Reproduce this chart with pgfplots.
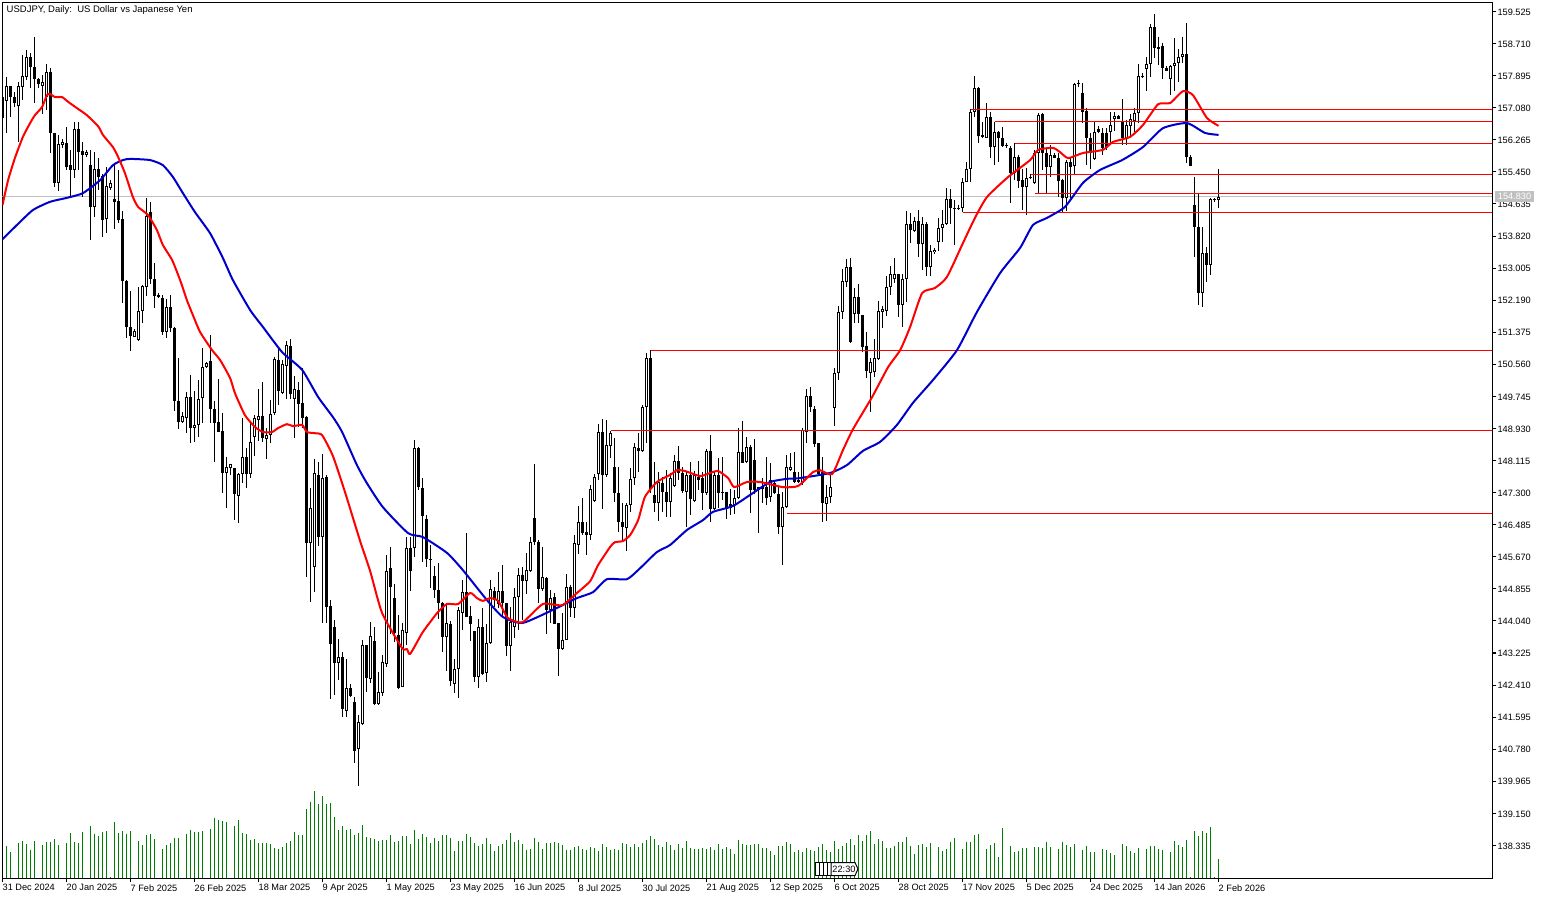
\documentclass[border=0pt]{standalone}
\usepackage{pgfplots}
\usepackage{pgfplotstable}
\usepackage{fontspec}
\setmainfont{Liberation Sans}
\pgfplotsset{compat=1.18}
\definecolor{volgreen}{HTML}{008000}
\definecolor{mablue}{HTML}{0000CD}
\definecolor{silverline}{HTML}{C0C0C0}
\pgfplotstableread{
x o h l c
0 157.35 157.38 156.82 156.82
1 157.25 157.86 156.44 157.63
2 157.63 157.63 156.84 157.35
3 157.35 157.48 157.10 157.20
4 157.12 157.73 156.21 157.63
5 157.61 158.42 157.28 157.89
6 157.86 158.55 157.78 158.37
7 158.37 158.47 157.58 158.11
8 158.11 158.88 157.20 157.81
9 157.81 157.84 157.58 157.68
10 157.63 157.91 156.92 157.73
11 157.35 158.19 157.02 157.99
12 157.99 158.09 155.93 156.44
13 156.44 156.44 155.07 155.17
14 155.17 156.38 154.97 156.16
15 156.13 156.29 156.06 156.21
16 156.18 156.59 155.50 155.57
17 155.62 156.01 154.81 155.50
18 155.50 156.72 155.29 156.54
19 156.54 156.72 155.50 155.96
20 155.98 156.21 154.81 155.88
21 155.88 156.01 155.83 155.96
22 155.62 156.01 153.72 154.56
23 154.56 155.96 154.30 155.52
24 155.52 155.80 154.99 155.32
25 155.34 155.39 153.79 154.23
26 154.25 155.57 153.89 155.09
27 155.04 155.24 154.99 155.17
28 154.76 155.62 153.99 154.69
29 154.71 155.50 154.15 154.23
30 154.25 154.46 152.12 152.68
31 152.68 152.70 151.23 151.51
32 151.51 152.42 150.90 151.28
33 151.25 151.46 151.25 151.41
34 151.18 152.52 151.15 151.92
35 151.92 152.58 151.61 152.55
36 152.52 154.79 152.30 154.33
37 154.43 154.69 152.60 152.73
38 152.73 153.13 151.99 152.30
39 152.32 152.37 152.25 152.27
40 152.25 152.32 151.30 151.38
41 151.38 152.22 151.23 152.02
42 152.02 152.32 151.38 151.48
43 151.48 151.51 149.37 149.63
44 149.63 150.72 148.92 149.09
45 149.09 149.35 149.07 149.25
46 149.20 149.86 148.81 149.73
47 149.73 150.29 148.56 148.94
48 148.94 149.88 148.59 149.02
49 149.02 150.16 148.71 149.68
50 149.70 150.97 149.07 150.49
51 150.49 150.62 150.47 150.59
52 150.64 151.30 149.07 149.42
53 149.42 149.63 148.08 149.07
54 149.09 150.19 148.84 148.84
55 148.86 149.32 147.29 147.80
56 147.80 148.21 146.91 147.95
57 147.93 148.03 147.75 148.03
58 147.93 147.93 146.60 147.26
59 147.21 147.80 146.53 147.77
60 147.77 149.20 147.54 148.20
61 148.20 148.43 147.42 147.77
62 147.77 149.09 147.67 148.58
63 148.71 149.27 148.23 149.20
64 149.14 149.93 148.61 149.25
65 149.25 150.11 148.59 148.69
66 148.66 148.94 148.15 148.76
67 148.76 149.65 148.56 149.29
68 149.32 150.74 149.27 150.69
69 150.67 150.95 149.52 149.88
70 149.83 150.67 149.80 150.57
71 150.52 151.15 149.68 151.05
72 151.03 151.20 149.68 149.80
73 149.68 150.26 148.69 149.93
74 149.91 150.11 148.97 149.55
75 149.58 150.47 148.94 149.20
76 149.22 149.25 145.15 146.02
77 146.02 147.42 144.52 146.91
78 145.41 148.15 144.78 147.80
79 147.75 148.08 145.94 146.17
80 146.17 148.28 143.99 147.67
81 147.70 147.75 143.99 144.39
82 144.42 144.57 142.05 143.45
83 143.88 144.06 142.16 142.97
84 142.97 143.58 142.54 143.12
85 143.12 143.25 141.60 141.80
86 141.75 143.07 141.60 142.33
87 142.33 142.43 142.11 142.13
88 141.98 142.11 140.43 140.73
89 140.78 141.65 139.84 141.47
90 141.42 143.56 141.40 143.43
91 143.43 143.43 142.23 142.59
92 142.56 144.01 142.46 143.66
93 143.53 143.88 141.90 141.93
94 141.93 142.74 141.90 142.23
95 142.21 143.17 142.13 143.00
96 142.94 145.71 142.87 145.31
97 145.38 145.92 143.71 144.90
98 144.62 144.98 143.50 143.73
99 143.68 144.19 142.31 142.33
100 142.36 143.99 142.36 143.81
101 143.73 146.17 143.43 145.89
102 145.89 146.17 144.80 145.31
103 145.89 148.64 145.66 148.43
104 148.43 148.46 147.37 147.44
105 147.42 147.67 145.54 146.71
106 146.63 146.73 145.41 145.61
107 145.61 145.97 144.88 145.59
108 145.18 145.44 144.62 144.83
109 144.83 145.51 144.09 144.49
110 144.49 144.52 143.25 143.63
111 143.63 144.49 142.77 143.99
112 143.96 144.04 142.38 142.51
113 142.43 143.07 142.21 142.82
114 142.82 144.39 142.08 144.32
115 144.24 145.08 143.81 144.77
116 144.77 146.27 144.14 144.14
117 144.17 144.42 143.53 143.96
118 143.78 143.78 142.49 142.61
119 142.61 144.09 142.33 143.88
120 143.88 144.37 142.67 142.69
121 142.71 143.96 142.49 143.48
122 143.48 145.08 143.45 144.85
123 144.80 144.90 144.39 144.57
124 144.47 145.28 144.37 144.80
125 144.80 145.46 144.14 144.49
126 144.49 144.49 143.15 143.40
127 143.40 144.39 142.77 144.01
128 143.88 144.87 143.61 144.65
129 144.65 145.38 143.81 145.21
130 145.21 145.41 144.06 145.05
131 145.05 145.76 144.72 145.33
132 145.31 146.17 145.28 146.04
133 146.65 148.03 145.97 146.04
134 146.04 146.10 144.49 144.85
135 144.85 145.92 144.80 145.15
136 145.13 145.15 143.71 144.32
137 144.32 144.83 143.99 144.62
138 144.65 144.75 143.96 143.96
139 143.99 143.99 142.64 143.33
140 143.33 144.24 143.30 143.56
141 143.56 145.23 143.56 144.90
142 144.90 144.95 144.14 144.37
143 144.37 146.22 144.11 146.02
144 145.97 146.96 145.74 146.55
145 146.55 147.16 146.22 146.27
146 146.30 146.55 145.71 146.22
147 146.22 147.49 146.10 147.39
148 147.09 147.77 147.06 147.70
149 147.77 149.04 147.62 148.84
150 148.84 149.17 146.88 147.75
151 147.75 149.14 147.70 148.51
152 148.48 148.86 148.18 148.81
153 147.95 148.69 147.06 147.29
154 147.29 147.95 146.30 146.55
155 146.55 147.03 146.04 146.42
156 146.40 147.03 145.82 146.98
157 146.98 147.93 146.81 147.65
158 147.67 148.56 147.49 148.46
159 148.43 148.81 147.82 148.36
160 148.36 149.53 148.33 149.48
161 149.48 150.85 148.56 150.72
162 150.72 150.92 147.29 147.39
163 147.24 148.08 146.81 147.04
164 147.04 147.82 146.58 147.57
165 147.54 147.70 146.81 147.32
166 147.32 147.87 146.68 147.06
167 147.06 147.80 146.68 147.67
168 147.47 148.26 147.44 148.10
169 148.10 148.49 147.62 147.80
170 147.80 147.95 147.29 147.34
171 147.32 147.82 146.42 147.75
172 147.75 148.08 146.73 147.14
173 147.09 147.85 147.06 147.75
174 147.70 148.10 147.37 147.62
175 147.67 147.82 146.86 147.29
176 147.29 148.41 147.24 148.36
177 148.36 148.76 146.55 146.88
178 146.88 147.85 146.86 147.75
179 147.75 148.18 146.91 147.29
180 147.32 148.20 147.11 147.29
181 147.32 147.32 146.63 146.91
182 147.01 147.39 146.73 146.91
183 146.98 147.37 146.76 147.16
184 147.16 148.94 147.14 148.33
185 148.33 149.12 148.05 148.05
186 148.08 148.71 148.05 148.46
187 148.46 148.51 146.78 147.37
188 148.13 148.66 147.26 147.37
189 147.44 147.44 146.27 147.37
190 147.39 147.67 147.04 147.44
191 147.44 148.20 146.98 147.16
192 147.19 148.05 147.06 147.62
193 147.54 147.62 147.26 147.29
194 147.26 147.44 146.25 146.42
195 146.42 147.32 145.46 146.93
196 146.93 148.26 146.91 147.95
197 147.87 148.31 147.85 147.95
198 147.82 148.33 147.54 147.57
199 147.62 147.82 147.54 147.57
200 147.54 148.94 147.49 148.89
201 148.84 149.93 148.56 149.75
202 149.75 149.98 149.35 149.48
203 149.42 149.50 148.46 148.53
204 148.56 148.56 147.75 147.77
205 147.82 148.20 146.55 147.04
206 147.01 147.49 146.58 147.19
207 147.19 147.75 147.04 147.44
208 149.45 150.47 148.99 150.34
209 150.34 152.04 150.16 151.89
210 151.89 152.98 151.71 152.68
211 152.65 153.24 152.52 153.03
212 153.03 153.26 151.10 151.13
213 151.84 152.50 151.61 152.27
214 152.27 152.60 151.61 151.84
215 151.81 151.81 150.87 151.00
216 151.03 151.38 150.21 150.39
217 150.34 150.72 149.35 150.62
218 150.36 151.20 150.24 150.72
219 150.69 152.17 150.67 151.92
220 151.89 152.04 151.48 151.97
221 151.92 152.80 151.79 152.52
222 152.52 153.06 152.32 152.85
223 152.73 153.26 152.63 152.85
224 152.85 152.85 151.76 152.07
225 152.07 152.85 151.51 152.73
226 152.73 154.46 152.14 154.13
227 154.13 154.41 153.64 153.97
228 153.95 154.30 153.92 154.20
229 154.20 154.48 153.29 153.62
230 153.62 154.30 152.96 154.13
231 154.13 154.18 152.80 153.03
232 153.03 153.59 152.80 153.44
233 153.41 153.52 153.36 153.47
234 153.67 154.28 153.44 154.02
235 154.02 154.48 153.67 154.13
236 154.13 155.04 154.10 154.76
237 154.76 155.01 154.13 154.53
238 154.53 154.74 153.59 154.51
239 154.51 154.61 154.48 154.53
240 154.53 155.29 154.43 155.19
241 155.19 155.70 155.19 155.52
242 155.52 157.05 155.19 156.97
243 156.97 157.89 156.84 157.58
244 157.58 157.61 156.18 156.36
245 156.38 156.72 156.31 156.33
246 156.31 157.20 156.31 156.84
247 156.84 156.97 155.80 156.08
248 156.08 156.72 155.62 156.46
249 156.46 156.49 155.70 156.31
250 156.31 156.59 156.08 156.11
251 156.13 156.18 156.06 156.11
252 156.06 156.11 154.66 155.42
253 155.42 156.18 155.24 155.83
254 155.83 155.88 155.04 155.22
255 155.24 155.52 154.48 155.07
256 155.07 155.55 154.35 155.29
257 155.29 155.39 155.27 155.32
258 155.17 156.01 155.14 155.93
259 155.93 156.95 154.91 156.89
260 156.92 156.95 155.50 155.93
261 155.93 156.06 154.91 155.57
262 155.57 156.13 155.32 155.88
263 155.88 155.93 155.80 155.80
264 155.80 155.93 154.81 155.22
265 155.24 155.27 154.40 154.79
266 154.79 155.75 154.45 155.70
267 155.70 155.83 154.79 155.57
268 155.60 157.71 155.37 157.68
269 157.68 157.78 157.61 157.71
270 157.45 157.71 156.69 156.97
271 157.00 157.07 155.62 156.31
272 156.31 156.44 155.52 155.93
273 155.78 156.72 155.75 156.46
274 156.54 156.62 156.44 156.46
275 156.44 156.56 155.88 156.06
276 156.44 156.56 156.01 156.08
277 156.46 156.97 156.18 156.64
278 156.79 156.97 156.49 156.87
279 156.87 156.89 156.79 156.79
280 156.72 157.30 156.13 156.31
281 156.31 156.77 156.13 156.64
282 156.62 156.92 156.34 156.79
283 156.74 157.07 156.46 156.95
284 156.95 158.19 156.69 157.89
285 157.89 157.96 157.84 157.86
286 158.06 158.37 157.50 158.19
287 158.19 159.21 157.86 159.13
288 159.13 159.46 158.34 158.60
289 158.57 158.88 158.17 158.62
290 158.65 158.72 157.81 158.09
291 158.09 158.14 158.01 158.01
292 157.81 158.17 157.40 158.14
293 158.14 158.85 157.50 158.22
294 158.22 158.57 157.73 158.37
295 158.37 158.88 158.22 158.44
296 158.44 159.23 155.67 155.83
297 155.83 155.88 155.60 155.60
298 154.61 155.32 153.29 154.05
299 154.05 154.91 152.07 152.37
300 152.37 154.05 152.02 153.39
301 153.39 153.54 152.65 153.08
302 153.08 154.79 152.83 154.76
303 154.76 154.79 154.69 154.74
304 154.74 155.52 154.53 154.81
}\candles
\begin{document}
\begin{tikzpicture}[x=1pt,y=1pt]
\path[use as bounding box] (0,0) rectangle (1545,-899);
\begin{axis}[
  name=main,
  at={(2.3pt,-878.3pt)}, anchor=south west,
  scale only axis, width=1490pt, height=876pt,
  xmin=-0.05, xmax=372.45, ymin=137.5, ymax=159.759,
  axis line style={black,line width=1pt},
  tick style={black,line width=1pt},
  major tick length=4pt,
  tick align=outside,
  xtick pos=bottom, ytick pos=right,
  yticklabel pos=right,
  ytick={138.335,139.15,139.965,140.78,141.595,142.41,143.225,144.04,144.855,145.67,146.485,147.3,148.115,148.93,149.745,150.56,151.375,152.19,153.005,153.82,154.635,155.45,156.265,157.08,157.895,158.71,159.525},
  xtick={0,16,32,48,64,80,96,112,128,144,160,176,192,208,224,240,256,272,288,304},
  xticklabels={31 Dec 2024,20 Jan 2025,7 Feb 2025,26 Feb 2025,18 Mar 2025,9 Apr 2025,1 May 2025,23 May 2025,16 Jun 2025,8 Jul 2025,30 Jul 2025,21 Aug 2025,12 Sep 2025,6 Oct 2025,28 Oct 2025,17 Nov 2025,5 Dec 2025,24 Dec 2025,14 Jan 2026,2 Feb 2026},
  /pgf/number format/fixed,
  /pgf/number format/fixed zerofill,
  /pgf/number format/precision=3,
  /pgf/number format/1000 sep={},
  /pgf/number format/assume math mode=true,
  yticklabel style={anchor=west,inner xsep=0pt,inner ysep=0pt,xshift=1pt,yshift=-0.5pt,font=\fontsize{9.2}{11}\selectfont},
  xticklabel style={anchor=north west,inner xsep=0pt,inner ysep=0pt,yshift=-2pt,font=\fontsize{9.2}{11}\selectfont},
]
% last price line
\addplot[silverline,line width=1pt,forget plot] coordinates {(-0.05,154.83)(372.45,154.83)};
% wicks
\addplot[draw=none,mark=none,forget plot,
  error bars/.cd,y dir=minus,y explicit,error mark=none,
  error bar style={draw=black,line width=1pt}]
  table[x=x,y=h,y error minus expr=\thisrow{h}-\thisrow{l}] {\candles};
% body outlines and black bodies
\addplot[draw=none,mark=none,forget plot,
  error bars/.cd,y dir=minus,y explicit,error mark=none,
  error bar style={draw=black,line width=3pt}]
  table[x=x,y expr={max(\thisrow{o},\thisrow{c})},y error minus expr={abs(\thisrow{o}-\thisrow{c})}] {\candles};
% hollow interior of rising candles
\addplot[draw=none,mark=none,forget plot,
  error bars/.cd,y dir=minus,y explicit,error mark=none,
  error bar style={draw=white,line width=1pt}]
  table[x expr={\thisrow{c}>\thisrow{o} ? \thisrow{x} : -100},y expr={\thisrow{c}-0.0254},y error minus expr={max(\thisrow{c}-\thisrow{o}-0.0508,0)}] {\candles};
% horizontal levels
\addplot[red,line width=1pt,forget plot] coordinates {(242,157.04)(372.45,157.04)};
\addplot[red,line width=1pt,forget plot] coordinates {(248,156.735)(372.45,156.735)};
\addplot[red,line width=1pt,forget plot] coordinates {(253,156.176)(372.45,156.176)};
\addplot[red,line width=1pt,forget plot] coordinates {(257,155.388)(372.45,155.388)};
\addplot[red,line width=1pt,forget plot] coordinates {(258,154.905)(372.45,154.905)};
\addplot[red,line width=1pt,forget plot] coordinates {(240,154.422)(372.45,154.422)};
\addplot[red,line width=1pt,forget plot] coordinates {(162,150.911)(372.45,150.911)};
\addplot[red,line width=1pt,forget plot] coordinates {(152,148.883)(372.45,148.883)};
\addplot[red,line width=1pt,forget plot] coordinates {(196,146.774)(372.45,146.774)};
% moving averages
\addplot[mablue,line width=2pt,line join=round,smooth,tension=0.35,forget plot] coordinates {
(0,153.74)(3.6,154.10)(7.6,154.48)(11.9,154.69)(16.1,154.79)(20.1,154.91)(24.4,155.24)(27.6,155.62)(30.1,155.75)(31.9,155.78)(36.9,155.75)(40.1,155.62)(42.6,155.32)(45.1,154.91)(48.1,154.43)(51.9,153.89)(55.1,153.26)(57.6,152.70)(61.9,151.94)(65.1,151.51)(69.9,150.87)(74.9,150.42)(78.9,149.73)(82.6,149.22)(84.9,148.84)(88.6,148.00)(91.1,147.54)(95.1,146.93)(101.4,146.27)(105.1,146.17)(111.1,145.77)(115.1,145.33)(121.1,144.57)(125.1,144.14)(130.1,143.99)(138.6,144.37)(143.6,144.62)(147.6,144.77)(151.1,145.10)(156.1,145.10)(159.4,145.38)(163.6,145.79)(166.9,145.97)(171.1,146.35)(175.1,146.60)(177.6,146.81)(182.6,146.96)(187.6,147.29)(191.9,147.57)(196.1,147.65)(199.4,147.67)(206.9,147.80)(211.1,148.00)(215.1,148.36)(219.4,148.59)(223.6,149.02)(227.6,149.58)(232.6,150.16)(238.6,150.92)(243.6,151.89)(249.4,152.88)(254.4,153.52)(257.6,154.10)(261.1,154.28)(265.6,154.56)(270.1,155.17)(274.4,155.50)(279.9,155.75)(285.1,156.08)(290.1,156.56)(296.1,156.69)(300.6,156.44)(304,156.39)};
\addplot[red,line width=2pt,line join=round,smooth,tension=0.35,forget plot] coordinates {
(0,154.61)(1.4,155.24)(3.1,155.80)(5.1,156.34)(6.9,156.69)(8.1,156.89)(9.9,157.10)(11.1,157.40)(11.9,157.43)(13.1,157.35)(14.9,157.35)(16.4,157.23)(18.6,157.07)(21.1,156.89)(23.9,156.61)(25.1,156.39)(27.6,156.08)(28.9,155.83)(30.6,155.42)(32.6,154.81)(33.9,154.56)(36.4,154.35)(38.6,153.97)(40.1,153.59)(42.4,153.21)(44.4,152.70)(46.1,152.19)(47.6,151.81)(49.4,151.38)(52.4,150.92)(54.4,150.67)(56.9,150.21)(58.1,149.83)(60.6,149.27)(63.1,148.97)(65.1,148.84)(67.4,148.84)(68.9,148.94)(71.1,149.04)(72.6,148.99)(74.9,149.02)(76.1,148.84)(78.1,148.81)(79.9,148.76)(82.6,148.23)(85.6,147.32)(89.4,146.07)(91.9,145.31)(94.9,144.24)(99.9,143.35)(101.1,143.33)(101.9,143.20)(104.9,143.73)(106.9,144.01)(108.9,144.27)(111.1,144.47)(113.9,144.47)(116.9,144.75)(118.6,144.62)(120.1,144.55)(121.9,144.62)(123.9,144.55)(126.1,144.14)(127.4,144.06)(130.1,144.01)(135.1,144.47)(139.9,144.44)(143.6,144.75)(146.9,145.05)(148.9,145.46)(151.9,145.92)(153.1,146.04)(155.1,146.07)(156.9,146.22)(158.9,146.60)(160.6,147.19)(163.6,147.57)(166.9,147.75)(168.6,147.87)(170.6,147.85)(174.4,147.72)(176.9,147.80)(178.9,147.85)(181.4,147.67)(182.9,147.44)(186.1,147.57)(189.4,147.57)(195.1,147.44)(198.9,147.47)(202.6,147.82)(204.4,147.87)(207.4,147.77)(210.1,148.38)(212.6,148.91)(217.4,149.73)(221.4,150.49)(224.4,150.92)(226.9,151.51)(229.9,152.37)(233.1,152.50)(236.1,152.78)(240.1,153.64)(243.1,154.28)(246.1,154.81)(251.4,155.32)(256.9,155.75)(258.9,156.01)(262.6,156.06)(264.4,155.95)(266.4,155.80)(270.1,155.93)(275.1,156.01)(277.6,156.21)(281.9,156.34)(285.1,156.64)(288.9,157.17)(291.9,157.20)(295.1,157.50)(297.6,157.40)(301.1,156.82)(304,156.62)};
\end{axis}
% tick volume, own hidden scale
\begin{axis}[
  at={(2.3pt,-878.3pt)}, anchor=south west,
  scale only axis, width=1490pt, height=876pt,
  xmin=-0.05, xmax=372.45, ymin=0, ymax=876,
  hide axis,
]
\addplot[ycomb,volgreen,line width=1pt,mark=none] coordinates {
(1,32)(2,26)(3,0)(4,35)(5,37)(6,34)(7,28)(8,37)(9,0)(10,33)(11,36)(12,36)(13,39)(14,33)(15,0)(16,35)(17,45)(18,36)(19,35)(20,46)(21,0)(22,52)(23,44)(24,42)(25,46)(26,47)(27,1)(28,56)(29,45)(30,47)(31,44)(32,47)(33,0)(34,37)(35,33)(36,43)(37,44)(38,39)(39,0)(40,29)(41,33)(42,35)(43,40)(44,40)(45,0)(46,44)(47,48)(48,46)(49,46)(50,47)(51,0)(52,49)(53,60)(54,58)(55,57)(56,56)(57,0)(58,52)(59,58)(60,45)(61,44)(62,38)(63,39)(64,35)(65,35)(66,35)(67,34)(68,30)(69,29)(70,31)(71,35)(72,37)(73,46)(74,43)(75,43)(76,69)(77,76)(78,87)(79,74)(80,82)(81,74)(82,75)(83,61)(84,48)(85,52)(86,48)(87,49)(88,43)(89,45)(90,53)(91,41)(92,40)(93,39)(94,37)(95,38)(96,38)(97,43)(98,36)(99,37)(100,42)(101,42)(102,34)(103,48)(104,39)
(105,44)(106,41)(107,35)(108,40)(109,37)(110,43)(111,43)(112,40)(113,27)(114,37)(115,37)(116,44)(117,41)(118,35)(119,32)(120,34)(121,40)(122,34)(123,27)(124,32)(125,34)(126,38)(127,45)(128,36)(129,38)(130,34)(131,28)(132,29)(133,40)(134,36)(135,29)(136,35)(137,35)(138,36)(139,35)(140,33)(141,28)(142,28)(143,31)(144,32)(145,29)(146,28)(147,31)(148,30)(149,27)(150,34)(151,31)(152,28)(153,29)(154,28)(155,35)(156,34)(157,31)(158,34)(159,31)(160,35)(161,38)(162,42)(163,39)(164,33)(165,31)(166,36)(167,33)(168,28)(169,34)(170,30)(171,37)(172,30)(173,29)(174,29)(175,30)(176,29)(177,31)(178,28)(179,34)(180,29)(181,31)(182,29)(183,24)(184,38)(185,34)(186,33)(187,33)(188,34)(189,34)(190,30)(191,30)(192,27)(193,23)(194,32)(195,32)(196,36)(197,34)(198,26)(199,28)(200,26)(201,30)(202,28)(203,27)(204,31)(205,34)(206,28)(207,26)(208,37)(209,29)
(210,32)(211,35)(212,39)(213,33)(214,43)(215,37)(216,43)(217,47)(218,34)(219,39)(220,37)(221,30)(222,30)(223,32)(224,36)(225,36)(226,41)(227,32)(228,24)(229,33)(230,34)(231,31)(232,35)(233,0)(234,31)(235,27)(236,29)(237,36)(238,40)(239,0)(240,29)(241,36)(242,36)(243,43)(244,44)(245,0)(246,29)(247,33)(248,35)(249,21)(250,50)(251,0)(252,32)(253,26)(254,27)(255,30)(256,30)(257,0)(258,31)(259,31)(260,30)(261,36)(262,31)(263,0)(264,29)(265,36)(266,33)(267,31)(268,34)(269,0)(270,28)(271,32)(272,26)(273,26)(274,0)(275,29)(276,28)(277,25)(278,23)(279,0)(280,34)(281,32)(282,27)(283,25)(284,30)(285,0)(286,29)(287,32)(288,32)(289,29)(290,28)(291,0)(292,26)(293,37)(294,33)(295,31)(296,38)(297,1)(298,47)(299,42)(300,47)(301,45)(302,51)(303,1)(304,19)};
\end{axis}
% title, last price tag, countdown widget
\node[anchor=west,inner sep=0pt,font=\fontsize{9.5}{11}\selectfont] at (6.5,-10) {USDJPY, Daily:\ \ US Dollar vs Japanese Yen};
\node[fill=silverline,text=white,inner sep=0pt,minimum width=39pt,minimum height=11pt,font=\fontsize{9.2}{11}\selectfont] at (1514.5,-196.5) {154.830};
\foreach \bx in {815,819,823,827}{\draw[black,fill=white,line width=1pt] (\bx,-862.5) rectangle ++(6,-13);}
\draw[black,fill=white,line width=1pt] (831,-862.5) -- (855,-862.5) -- (858,-869) -- (855,-875.5) -- (831,-875.5) -- cycle;
\node[inner sep=0pt,font=\fontsize{9.2}{11}\selectfont] at (844,-869) {22:30};
\end{tikzpicture}
\end{document}
